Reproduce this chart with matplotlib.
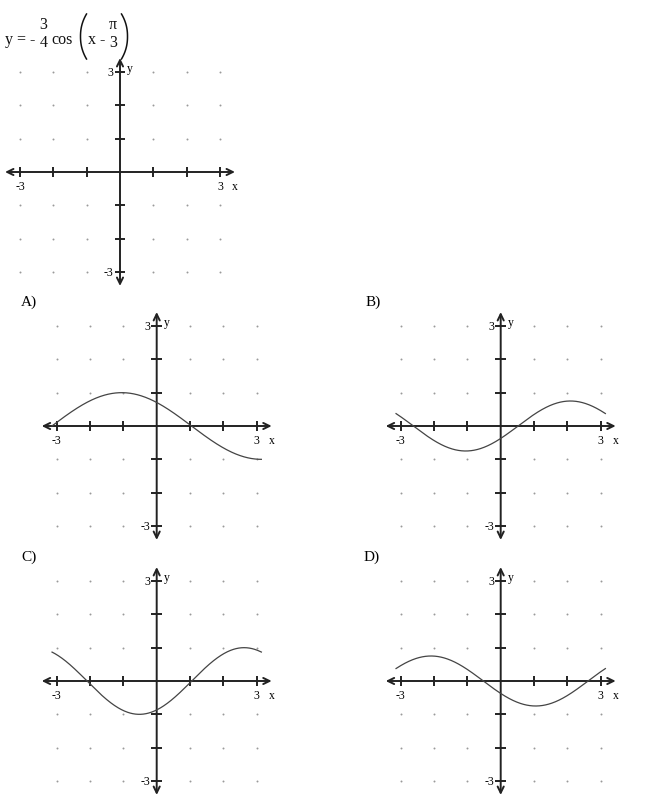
import numpy as np
import matplotlib
matplotlib.use("Agg")
import matplotlib.pyplot as plt

# ---- data ----
option_labels = ["A)", "B)", "C)", "D)"]
# each curve: y = amplitude * cos(frequency * (x - shift))
amplitudes = [1.0, -0.75, -1.0, -0.75]
frequencies = [0.75, 1.0, 1.0, 1.0]
shifts = [-1.05, -1.05, -0.52, 1.05]
x_domain = [-3.14, 3.14]
axis_ticks = [-3, -2, -1, 1, 2, 3]
x_tick_labels = ["-3", "3"]
y_tick_labels = ["3", "-3"]

SERIF = ["Liberation Serif", "DejaVu Serif"]

W, H = 650, 803
fig = plt.figure(figsize=(W / 100, H / 100), dpi=100)
fig.patch.set_facecolor("white")

# overlay in pixel coordinates for the equation
ov = fig.add_axes([0, 0, 1, 1])
ov.set_xlim(0, W)
ov.set_ylim(H, 0)
ov.axis("off")

EQ_FS = 11.5
TXT = dict(fontsize=EQ_FS, family=SERIF, va="baseline", color="#111111")
ov.text(5, 44, "y = -", ha="left", **TXT)
ov.text(43.5, 29, "3", ha="center", **TXT)
ov.text(43.5, 47, "4", ha="center", **TXT)
ov.text(51, 44, "cos", ha="left", **TXT)
ov.text(88, 44, "x", ha="left", **TXT)
ov.text(99, 44, "-", ha="left", **TXT)
ov.text(112.5, 29, "\u03c0", ha="center", **TXT)
ov.text(113, 47, "3", ha="center", **TXT)

# tall parentheses (flat middle, hooked ends)
s = np.linspace(-1.0, 1.0, 80)
bend = 6.0 * np.abs(s) ** 2.2
ov.plot(80.5 + bend, 37.5 + 22.5 * s, color="#111111", lw=1.1)
ov.plot(127.5 - bend, 37.5 + 22.5 * s, color="#111111", lw=1.1)

UNIT = 33.33  # pixels per unit
EXT = 3.6


def make_axes(ox, oy):
    size = 2 * EXT * UNIT
    left = (ox - EXT * UNIT) / W
    bottom = (H - oy - EXT * UNIT) / H
    ax = fig.add_axes([left, bottom, size / W, size / H])
    ax.set_xlim(-EXT, EXT)
    ax.set_ylim(-EXT, EXT)
    ax.axis("off")
    ax.patch.set_alpha(0)
    # grid dots
    gx, gy = np.meshgrid(axis_ticks, axis_ticks)
    ax.scatter(gx.ravel(), gy.ravel(), s=2.0, color="#9a9a9a", linewidths=0, zorder=1)
    # axes with arrows
    ap = dict(arrowstyle="<->,head_length=0.45,head_width=0.22", lw=1.4, color="#222222",
              shrinkA=0, shrinkB=0)
    ax.annotate("", xy=(3.45, 0), xytext=(-3.45, 0), arrowprops=ap, zorder=3)
    ax.annotate("", xy=(0, 3.42), xytext=(0, -3.42), arrowprops=ap, zorder=3)
    # tick marks
    for tk in axis_ticks:
        ax.plot([tk, tk], [-0.16, 0.16], color="#222222", lw=1.4, zorder=3,
                solid_capstyle="butt")
        ax.plot([-0.16, 0.16], [tk, tk], color="#222222", lw=1.4, zorder=3,
                solid_capstyle="butt")
    # labels
    fs = 8.5
    ax.text(-3.0, -0.42, x_tick_labels[0], ha="center", va="center", fontsize=fs, family=SERIF)
    ax.text(3.0, -0.42, x_tick_labels[1], ha="center", va="center", fontsize=fs, family=SERIF)
    ax.text(3.45, -0.42, "x", ha="center", va="center", fontsize=fs, family=SERIF)
    ax.text(-0.2, 3.0, y_tick_labels[0], ha="right", va="center", fontsize=fs, family=SERIF)
    ax.text(-0.2, -3.0, y_tick_labels[1], ha="right", va="center", fontsize=fs, family=SERIF)
    ax.text(0.22, 3.12, "y", ha="left", va="center", fontsize=fs, family=SERIF)
    return ax


# top (question) graph
make_axes(120, 173)

origins = [(156.7, 427), (500.7, 427), (156.7, 682), (500.7, 682)]
label_pos = [(21, 302), (366, 302), (21, 557), (364, 557)]

for i in range(4):
    ax = make_axes(*origins[i])
    x = np.linspace(x_domain[0], x_domain[1], 400)
    y = amplitudes[i] * np.cos(frequencies[i] * (x - shifts[i]))
    ax.plot(x, y, color="#444444", lw=0.9, zorder=4)
    fig.text(label_pos[i][0] / W, 1 - label_pos[i][1] / H, option_labels[i],
             ha="left", va="center", fontsize=11, family=SERIF)

fig.savefig("out.png", dpi=100)
